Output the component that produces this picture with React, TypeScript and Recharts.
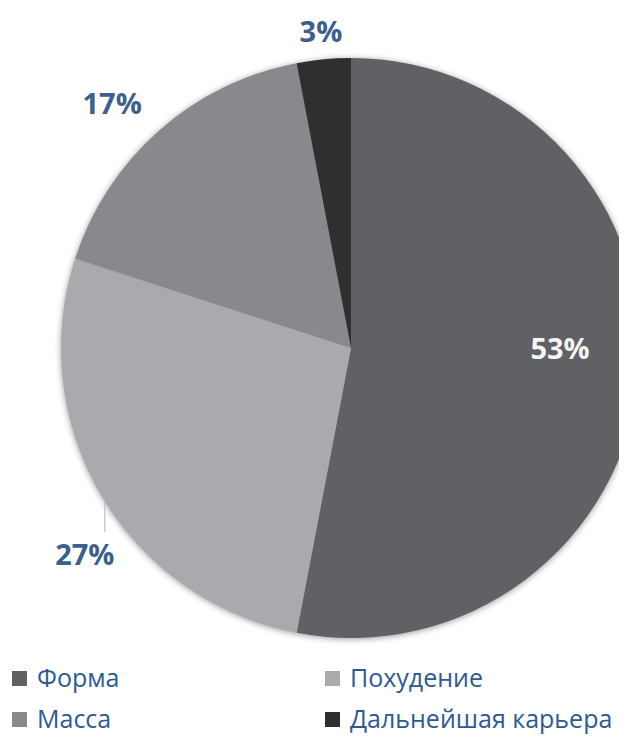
import { PieChart, Pie, Cell, Legend } from 'recharts'

const names = ['Форма', 'Похудение', 'Масса', 'Дальнейшая карьера']
const shares = [53, 27, 17, 3]
const colors = ['#5f6164', '#a8aaad', '#87898c', '#2f2f31']

// label placement: distance from center and a small nudge per slice
const labelRadius = [210, 336, 340, 319]
const labelNudge = [
  [0, -20],
  [23, 34],
  [-14, 10],
  [0, 0],
]

const data = names.map((name, i) => ({ name, value: shares[i] }))

const RADIAN = Math.PI / 180

const PieLabel = ({ cx, cy, midAngle, outerRadius, value, index }: any) => {
  const r = labelRadius[index]
  const x = cx + r * Math.cos(-midAngle * RADIAN) + labelNudge[index][0]
  const y = cy + r * Math.sin(-midAngle * RADIAN) + labelNudge[index][1]
  const inside = index === 0
  let leader = null
  if (index === 1) {
    const lx = x + 20
    const ly = cy + Math.sqrt(outerRadius * outerRadius - (lx - cx) * (lx - cx))
    leader = <line x1={lx} y1={ly - 8} x2={lx} y2={y - 21} stroke="#a9b8cc" strokeWidth={1} />
  }
  return (
    <g>
      {leader}
      <text
        x={x}
        y={y}
        textAnchor="middle"
        dominantBaseline="central"
        fill={inside ? '#f4f4f4' : '#3c5f8d'}
        fontFamily="'Open Sans', sans-serif"
        fontWeight={700}
        fontSize={29}
      >
        {value}%
      </text>
    </g>
  )
}

// legend drawn in data order, two columns
const LegendGrid = () => (
  <div
    style={{
      display: 'grid',
      gridTemplateColumns: '313px 294px',
      gridAutoRows: '41px',
      fontFamily: "'Open Sans', sans-serif",
      fontSize: 25,
      lineHeight: '30px',
      color: '#2e5a92',
      whiteSpace: 'nowrap',
    }}
  >
    {names.map((n, i) => (
      <div key={n} style={{ display: 'flex', alignItems: 'center' }}>
        <span style={{ width: 15, height: 15, background: colors[i], marginRight: 10, marginTop: 3, flex: 'none' }} />
        <span>{n}</span>
      </div>
    ))}
  </div>
)

export default function App() {
  return (
    <div style={{ margin: -8, width: 627, height: 745, overflow: 'hidden', background: '#fff' }}>
      <style>{`g:has(> .recharts-pie-sector) { filter: drop-shadow(0 1px 3px rgba(0,0,0,0.4)); }`}</style>
      <PieChart width={627} height={745} margin={{ top: 0, right: 0, bottom: 0, left: 0 }}>
        <Pie
          data={data}
          dataKey="value"
          nameKey="name"
          cx={351}
          cy={348}
          outerRadius={290}
          startAngle={90}
          endAngle={-270}
          stroke="none"
          label={<PieLabel />}
          labelLine={false}
          isAnimationActive={false}
        >
          {data.map((d, i) => (
            <Cell key={d.name} fill={colors[i]} />
          ))}
        </Pie>
        <Legend
          content={<LegendGrid />}
          wrapperStyle={{ position: 'absolute', left: 12, top: 656, width: 607 }}
        />
      </PieChart>
    </div>
  )
}
